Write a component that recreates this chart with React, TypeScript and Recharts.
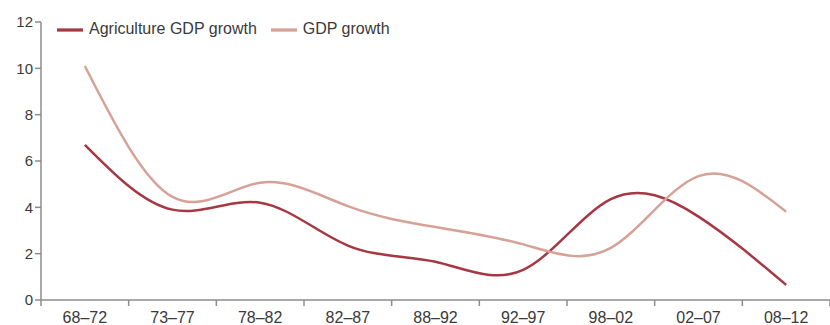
import { LineChart, Line, XAxis, YAxis, Legend } from "recharts";

const periods = ["68–72", "73–77", "78–82", "82–87", "88–92", "92–97", "98–02", "02–07", "08–12"];
const agricultureGrowth = [6.7, 3.9, 4.2, 2.35, 1.65, 1.3, 4.35, 3.6, 0.65];
const gdpGrowth = [10.1, 4.45, 5.06, 4.05, 3.15, 2.4, 2.25, 5.35, 3.81];
const yTicks = [0, 2, 4, 6, 8, 10, 12];

const AGRI = "#a63843";
const GDP = "#d6a197";
const AXIS = "#8c8c8c";
const TEXT = "#3a3a3a";
const FONT = "'Liberation Sans', Arial, sans-serif";

const data = periods.map((p, i) => ({
  x: i + 0.5,
  period: p,
  agri: agricultureGrowth[i],
  gdp: gdpGrowth[i],
}));

// boundary ticks at integers (short mark only), labels at band centres
const xTicks: number[] = [];
for (let i = 0; i <= periods.length; i++) {
  xTicks.push(i);
  if (i < periods.length) xTicks.push(i + 0.5);
}

function PeriodTick(props: any) {
  const { x, y, payload } = props;
  const v = payload.value as number;
  if (Number.isInteger(v)) {
    return <line x1={x} x2={x} y1={y - 8} y2={y - 2} stroke={AXIS} strokeWidth={1.5} />;
  }
  return (
    <text x={x} y={y + 15} textAnchor="middle" fill={TEXT} fontSize={16} fontFamily={FONT}>
      {periods[Math.floor(v)]}
    </text>
  );
}

export default function App() {
  return (
    <div style={{ position: "absolute", left: 0, top: 0, width: 830, height: 325, background: "#fff" }}>
      <LineChart width={830} height={325} data={data} margin={{ top: 22, right: 0, bottom: 0, left: 0 }}>
        <XAxis
          dataKey="x"
          type="number"
          domain={[0, periods.length]}
          ticks={xTicks}
          interval={0}
          tick={<PeriodTick />}
          tickLine={false}
          tickSize={6}
          tickMargin={2}
          height={25}
          axisLine={{ stroke: AXIS, strokeWidth: 1.5 }}
        />
        <YAxis
          domain={[0, 12]}
          ticks={yTicks}
          interval={0}
          width={41}
          tickSize={6}
          tickMargin={2}
          tick={{ fill: TEXT, fontSize: 15, fontFamily: FONT }}
          tickLine={{ stroke: AXIS, strokeWidth: 1.5 }}
          axisLine={{ stroke: AXIS, strokeWidth: 1.5 }}
        />
        <Legend
          layout="horizontal"
          verticalAlign="middle"
          align="center"
          iconType="plainline"
          iconSize={26}
          wrapperStyle={{ top: 17, left: 57, width: "auto", fontFamily: FONT, fontSize: 16 }}
          formatter={(value: string) => (
            <span style={{ color: TEXT, paddingLeft: 2, paddingRight: 4 }}>{value}</span>
          )}
        />
        <Line
          type="natural"
          dataKey="agri"
          name="Agriculture GDP growth"
          stroke={AGRI}
          strokeWidth={2.5}
          dot={false}
          isAnimationActive={false}
        />
        <Line
          type="natural"
          dataKey="gdp"
          name="GDP growth"
          stroke={GDP}
          strokeWidth={2.5}
          dot={false}
          isAnimationActive={false}
        />
      </LineChart>
    </div>
  );
}
